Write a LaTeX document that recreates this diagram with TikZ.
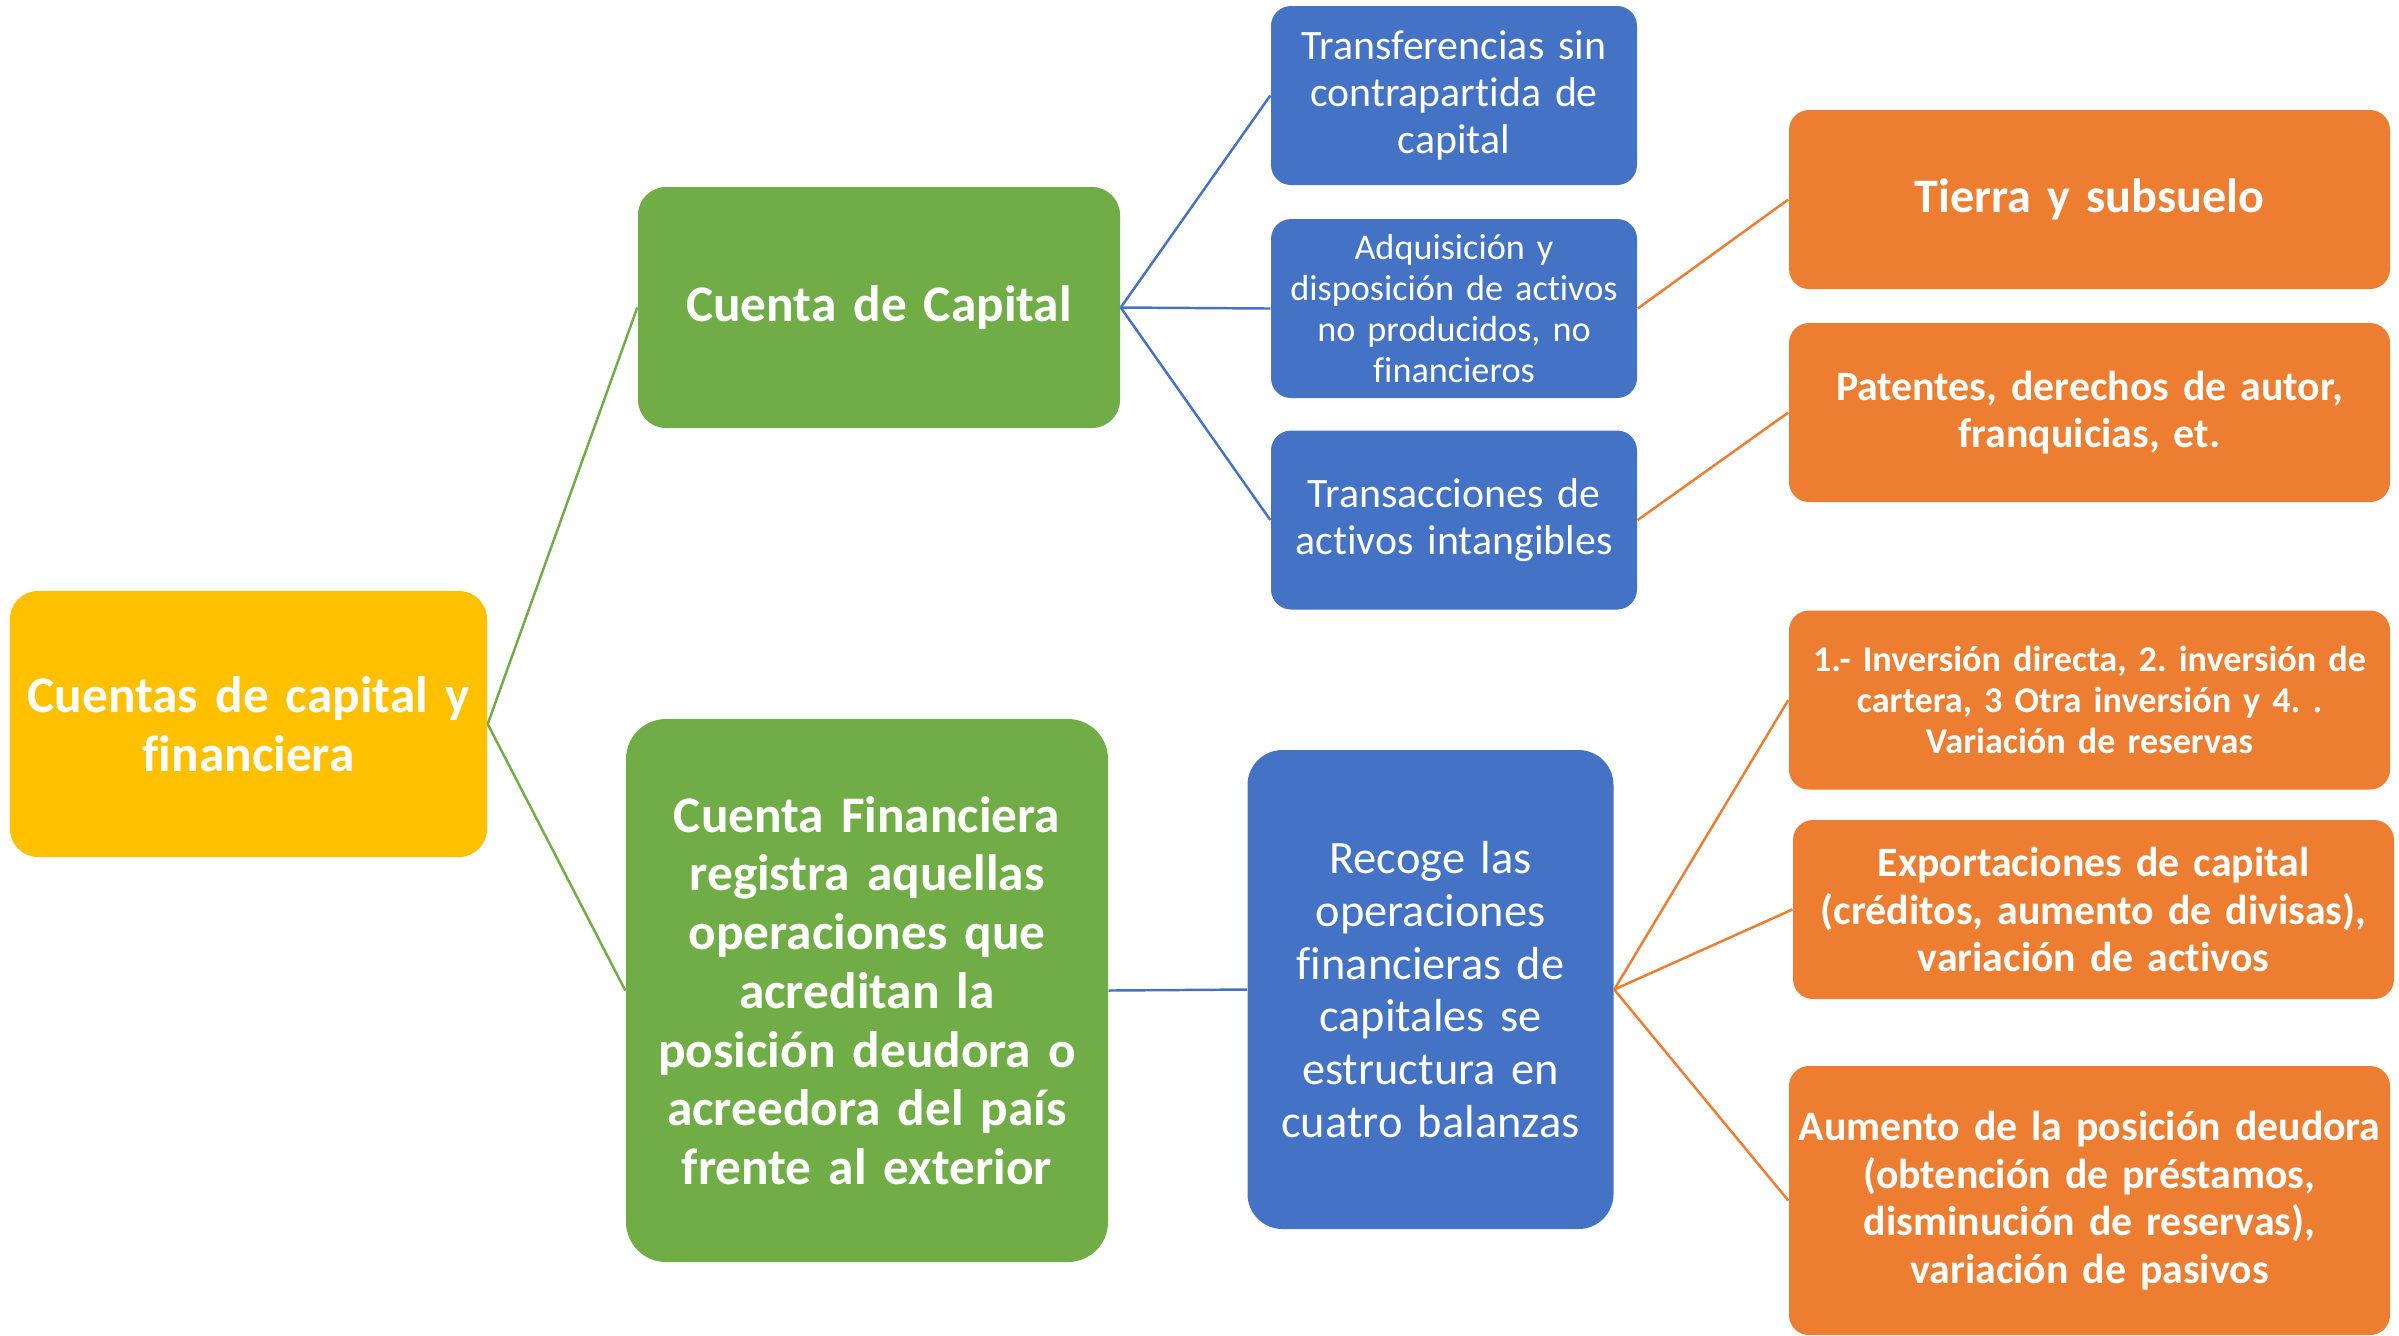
\documentclass[tikz,border=0pt]{standalone}
\usepackage{fontspec}
\setmainfont{Carlito}[Ligatures=NoCommon]
\usetikzlibrary{positioning}
\frenchspacing
\definecolor{amarillo}{HTML}{FFC000}
\definecolor{verde}{HTML}{70AD47}
\definecolor{azul}{HTML}{4472C4}
\definecolor{naranja}{HTML}{ED7D31}
\tikzstyle{caja} = [rectangle, rounded corners=0.2cm, text=white, align=center, inner xsep=0.1cm, inner ysep=0pt]
\tikzstyle{raiz} = [caja, rounded corners=0.28cm, fill=amarillo, text width=4.57cm, minimum height=2.66cm, font=\fontsize{14.6}{16.7}\selectfont\bfseries]
\tikzstyle{cuenta} = [caja, rounded corners=0.28cm, fill=verde, text width=4.62cm, font=\fontsize{14.6}{16.7}\selectfont\bfseries]
\tikzstyle{rubro} = [caja, fill=azul, text width=3.46cm, minimum height=1.79cm, font=\fontsize{11.9}{13.5}\selectfont]
\tikzstyle{detalle} = [caja, fill=naranja, text width=5.81cm, minimum height=1.79cm, font=\fontsize{11.9}{13.5}\selectfont\bfseries]
\tikzstyle{linea} = [line width=0.7pt]

\begin{document}
\begin{tikzpicture}[node distance=2.13cm]
    \useasboundingbox (0,0) rectangle (23.99,-13.35);
    \node (raiz) [raiz] at (2.485,-7.24) {Cuentas de capital y\\financiera};
    \node (capital) [cuenta, minimum height=2.41cm] at (8.79,-3.075) {Cuenta de Capital};
    \node (financiera) [cuenta, minimum height=5.43cm, rounded corners=0.4cm] at (8.67,-9.905) {Cuenta Financiera\\registra aquellas\\operaciones que\\acreditan la\\posici\'on deudora o\\acreedora del pa\'is\\frente al exterior};
    \node (transf) [rubro] at (14.54,-0.955) {Transferencias sin\\contrapartida de\\capital};
    \node (adquis) [rubro, below of=transf, font=\fontsize{10.3}{11.7}\selectfont] {Adquisici\'on y\\disposici\'on de activos\\no producidos, no\\financieros};
    \node (transac) [rubro, below of=adquis, yshift=0.015cm] {Transacciones de\\activos intangibles};
    \node (recoge) [rubro, minimum height=4.79cm, rounded corners=0.35cm, font=\fontsize{13.2}{15}\selectfont] at (14.305,-9.895) {Recoge las\\operaciones\\financieras de\\capitales se\\estructura en\\cuatro balanzas};
    \node (tierra) [detalle, font=\fontsize{13.7}{15.5}\selectfont\bfseries] at (20.895,-1.995) {Tierra y subsuelo};
    \node (patentes) [detalle, below of=tierra] {Patentes, derechos de autor,\\franquicias, et.};
    \node (inversion) [detalle, font=\fontsize{10.3}{11.7}\selectfont\bfseries] at (20.895,-7.0) {1.- Inversi\'on directa, 2. inversi\'on de\\cartera, 3 Otra inversi\'on y 4. .\\Variaci\'on de reservas};
    \node (export) [detalle, below of=inversion, xshift=0.04cm, yshift=0.035cm] {Exportaciones de capital\\(cr\'editos, aumento de divisas),\\variaci\'on de activos};
    \node (aumento) [detalle, minimum height=2.69cm, inner xsep=0pt, text width=6.01cm] at (20.895,-12.005) {Aumento de la posici\'on deudora\\(obtenci\'on de pr\'estamos,\\disminuci\'on de reservas),\\variaci\'on de pasivos};
    \draw [linea, verde] (raiz.east) -- (capital.west);
    \draw [linea, verde] (raiz.east) -- (financiera.west);
    \draw [linea, azul] (capital.east) -- (transf.west);
    \draw [linea, azul] (capital.east) -- (adquis.west);
    \draw [linea, azul] (capital.east) -- (transac.west);
    \draw [linea, naranja] (adquis.east) -- (tierra.west);
    \draw [linea, naranja] (transac.east) -- (patentes.west);
    \draw [linea, azul] (financiera.east) -- (recoge.west);
    \draw [linea, naranja] (recoge.east) -- (inversion.west);
    \draw [linea, naranja] (recoge.east) -- (export.west);
    \draw [linea, naranja] (recoge.east) -- (aumento.west);
\end{tikzpicture}
\end{document}
